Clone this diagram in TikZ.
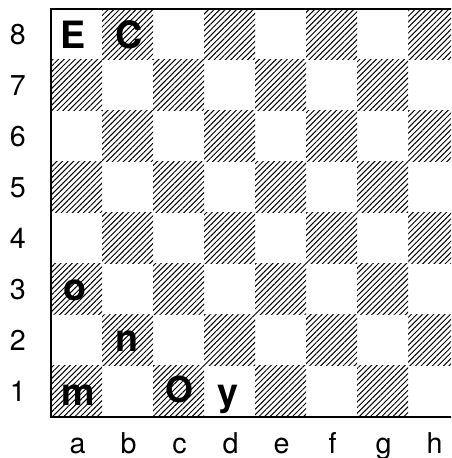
\documentclass[tikz,border=0pt]{standalone}
\usepackage{fontspec}
\setmainfont{TeX Gyre Heros}
\usetikzlibrary{patterns.meta}

\tikzset{
  dark/.style={pattern={Lines[angle=45,distance=2.2pt,line width=0.55pt]}},
  piece/.style={anchor=base,inner sep=0pt,font=\fontsize{21}{21}\selectfont\bfseries},
  coordlabel/.style={inner sep=0pt,font=\fontsize{16}{16}\selectfont},
}

\begin{document}
\begin{tikzpicture}
    \clip (-1,-0.804) rectangle (7.843,8.176);

    % dark squares
    \foreach \i in {0,...,7}
      \foreach \j in {0,2,4,6} {
        \pgfmathtruncatemacro\jj{\j+mod(\i,2)}
        \path[dark] (\i,\jj) rectangle +(1,1);
      }

    % board edges
    \draw[line width=1.1pt] (0,8) -- (0,0) -- (8,0);
    \draw[line width=1.5pt, line cap=rect] (0,8) -- (8,8);

    % ranks and files
    \foreach \r in {1,...,8}
      \node[coordlabel] (rank\r) at (-0.65,\r-0.5) {\r};
    \foreach \f [count=\i from 0] in {a,b,c,d,e,f,g,h}
      \node[coordlabel,anchor=base] (file\f) at (\i+0.52,-0.706) {\f};

    % pieces
    \node[piece] (a8) at (0.43,7.22) {E};
    \node[piece] (b8) at (1.54,7.22) {C};
    \node[piece] (a3) at (0.48,2.29) {o};
    \node[piece] (b2) at (1.49,1.275) {n};
    \node[piece] (a1) at (0.53,0.235) {m};
    \node[piece,font=\fontsize{20}{20}\selectfont\bfseries] (c1) at (2.51,0.29) {O};
    \node[piece] (d1) at (3.47,0.235) {y};
\end{tikzpicture}
\end{document}
